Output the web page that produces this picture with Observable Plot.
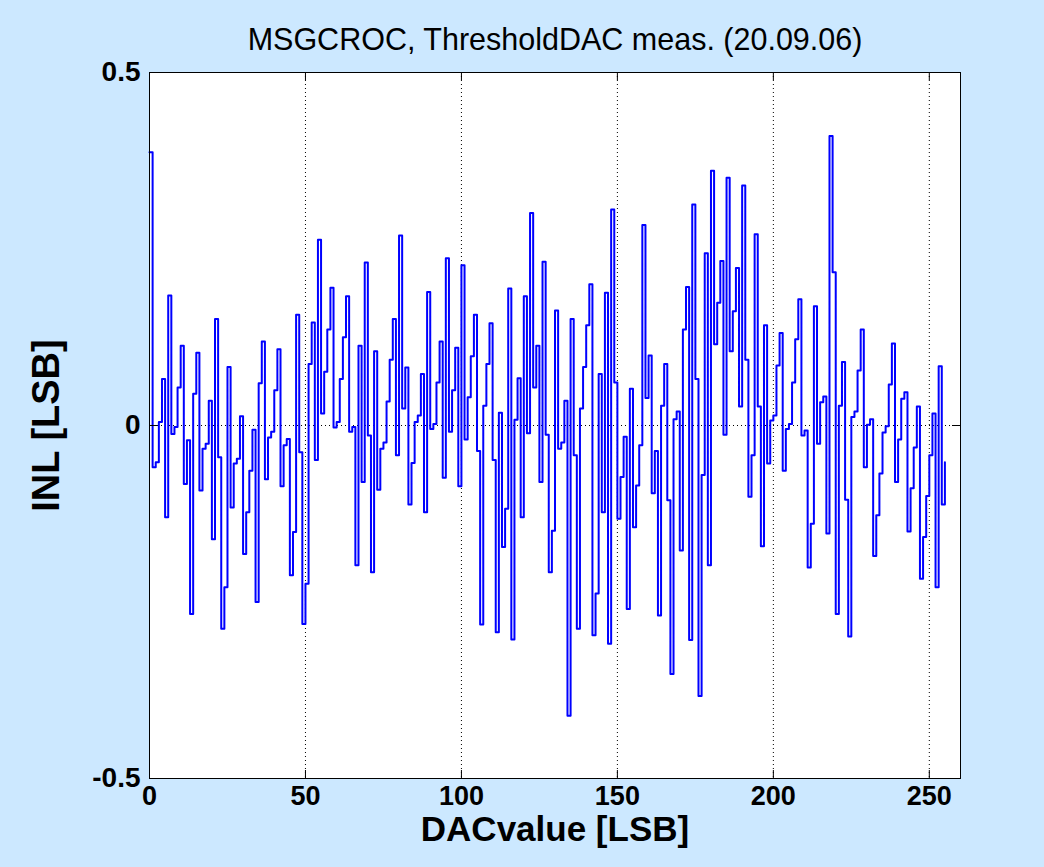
<!DOCTYPE html>
<html><head><meta charset="utf-8">
<script src="https://cdn.jsdelivr.net/npm/d3@7"></script>
<script src="https://cdn.jsdelivr.net/npm/@observablehq/plot@0.6"></script>
<style>
html,body{margin:0;padding:0;background:#cce8ff;}
#chart{width:1044px;height:867px;}
</style></head><body><div id="chart"></div>
<script>
const inl = [
 0.387,-0.059,-0.052,0.005,0.066,-0.130,0.184,-0.012,-0.002,0.054,
 0.113,-0.083,-0.021,-0.267,0.045,0.103,-0.092,-0.033,-0.026,0.035,
 -0.161,0.151,-0.045,-0.288,-0.229,0.083,-0.116,-0.054,-0.047,0.013,
 -0.182,-0.123,-0.064,-0.006,-0.250,0.060,0.119,-0.076,-0.017,-0.009,
 0.050,0.108,-0.086,-0.028,-0.019,-0.212,-0.151,0.157,-0.038,-0.281,
 -0.224,0.087,0.146,-0.049,0.263,0.017,0.076,0.136,0.195,-0.003,
 0.005,0.066,0.125,0.183,-0.009,-0.002,-0.198,0.113,-0.080,0.231,
 -0.014,-0.208,0.105,-0.091,-0.033,-0.024,0.034,0.093,0.151,-0.042,
 0.269,0.024,0.082,-0.112,-0.053,0.005,0.014,0.073,-0.123,0.189,
 -0.005,0.002,0.061,0.119,-0.074,0.237,-0.009,0.050,0.110,-0.086,
 0.227,-0.020,0.040,0.098,0.157,-0.036,-0.282,0.028,0.087,0.145,
 -0.049,-0.293,0.018,-0.172,-0.118,0.194,-0.303,0.008,0.067,-0.130,
 0.183,-0.011,0.301,0.054,0.113,-0.080,0.232,-0.013,-0.208,-0.149,
 0.163,-0.033,-0.024,0.035,-0.411,0.151,-0.042,-0.288,0.024,0.083,
 0.142,0.200,-0.297,-0.238,0.073,-0.123,0.188,-0.309,0.306,0.061,
 -0.132,-0.073,-0.016,-0.260,0.052,-0.144,-0.085,-0.028,0.284,0.039,
 0.099,-0.096,-0.036,-0.269,0.028,0.087,-0.106,-0.352,0.009,0.020,
 -0.177,0.136,0.196,-0.304,0.313,0.066,-0.383,-0.070,0.244,-0.198,
 0.361,0.115,0.174,0.233,-0.013,0.351,0.105,0.162,0.223,0.027,
 0.340,0.093,-0.101,-0.042,0.271,0.027,-0.171,0.142,-0.054,0.007,
 0.014,0.085,0.131,-0.064,-0.005,0.002,0.061,0.122,0.179,-0.014,
 -0.007,-0.201,-0.139,0.169,-0.026,0.033,0.041,-0.153,0.410,0.217,
 -0.267,0.028,0.090,-0.105,-0.299,0.012,0.020,0.078,0.136,-0.059,
 0.001,0.009,-0.185,-0.127,-0.068,-0.010,-0.001,0.058,0.116,-0.080,
 -0.020,0.038,0.047,-0.150,-0.089,-0.031,0.027,-0.217,-0.158,-0.100,
 -0.042,0.017,-0.229,0.084,-0.112,-0.052
];
const dac = d3.range(inl.length);
const xTicks = [0, 50, 100, 150, 200, 250];
const xGrid = [50, 100, 150, 200, 250];
const yTicks = [-0.5, 0, 0.5];
const yTickLabels = ["-0.5", "0", "0.5"];
const titleText = "MSGCROC, ThresholdDAC meas. (20.09.06)";
const xLabel = "DACvalue [LSB]";
const yLabel = "INL [LSB]";

const data = dac.map((d, i) => ({x: d, y: inl[i]}));

const W = 1044, H = 867, mL = 149, mR = 84, mT = 72, mB = 89;
const fw = W - mL - mR, fh = H - mT - mB, tl = 8;

const chart = Plot.plot({
  width: W, height: H,
  marginLeft: mL, marginRight: mR, marginTop: mT, marginBottom: mB,
  style: {background: "transparent", fontFamily: "'Liberation Sans', Arial, Helvetica, sans-serif", color: "black"},
  x: {domain: [0, 260], label: null},
  y: {domain: [-0.5, 0.5], label: null},
  marks: [
    Plot.frame({fill: "white", stroke: null}),
    Plot.gridX(xGrid, {stroke: "black", strokeOpacity: 1, strokeWidth: 1, strokeDasharray: "1,3"}),
    Plot.ruleY([0], {stroke: "black", strokeWidth: 1, strokeDasharray: "1,3"}),
    Plot.line(data, {x: "x", y: "y", curve: "step-after", stroke: "#0000ff", strokeWidth: 2}),
    Plot.tickX(xTicks, {x: d => d, insetTop: fh - tl, stroke: "black"}),
    Plot.tickX(xTicks, {x: d => d, insetBottom: fh - tl, stroke: "black"}),
    Plot.tickY(yTicks, {y: d => d, insetRight: fw - tl, stroke: "black"}),
    Plot.tickY(yTicks, {y: d => d, insetLeft: fw - tl, stroke: "black"}),
    Plot.frame({stroke: "black", strokeWidth: 1}),
    Plot.axisX(xTicks, {tickSize: 0, tickPadding: 7, fontSize: 27, fontWeight: "bold"}),
    Plot.axisY(yTicks, {tickSize: 0, tickPadding: 9, fontSize: 28, fontWeight: "bold", tickFormat: d => yTickLabels[yTicks.indexOf(d)]}),
    Plot.text([titleText], {frameAnchor: "top", dy: -32, lineAnchor: "middle", textAnchor: "middle", fontSize: 30.5}),
    Plot.text([xLabel], {frameAnchor: "bottom", dy: 51, lineAnchor: "middle", textAnchor: "middle", fontSize: 35, fontWeight: "bold"}),
    Plot.text([yLabel], {frameAnchor: "left", dx: -103, lineAnchor: "middle", textAnchor: "middle", rotate: -90, fontSize: 38, fontWeight: "bold"})
  ]
});
document.getElementById("chart").appendChild(chart);
</script></body></html>
